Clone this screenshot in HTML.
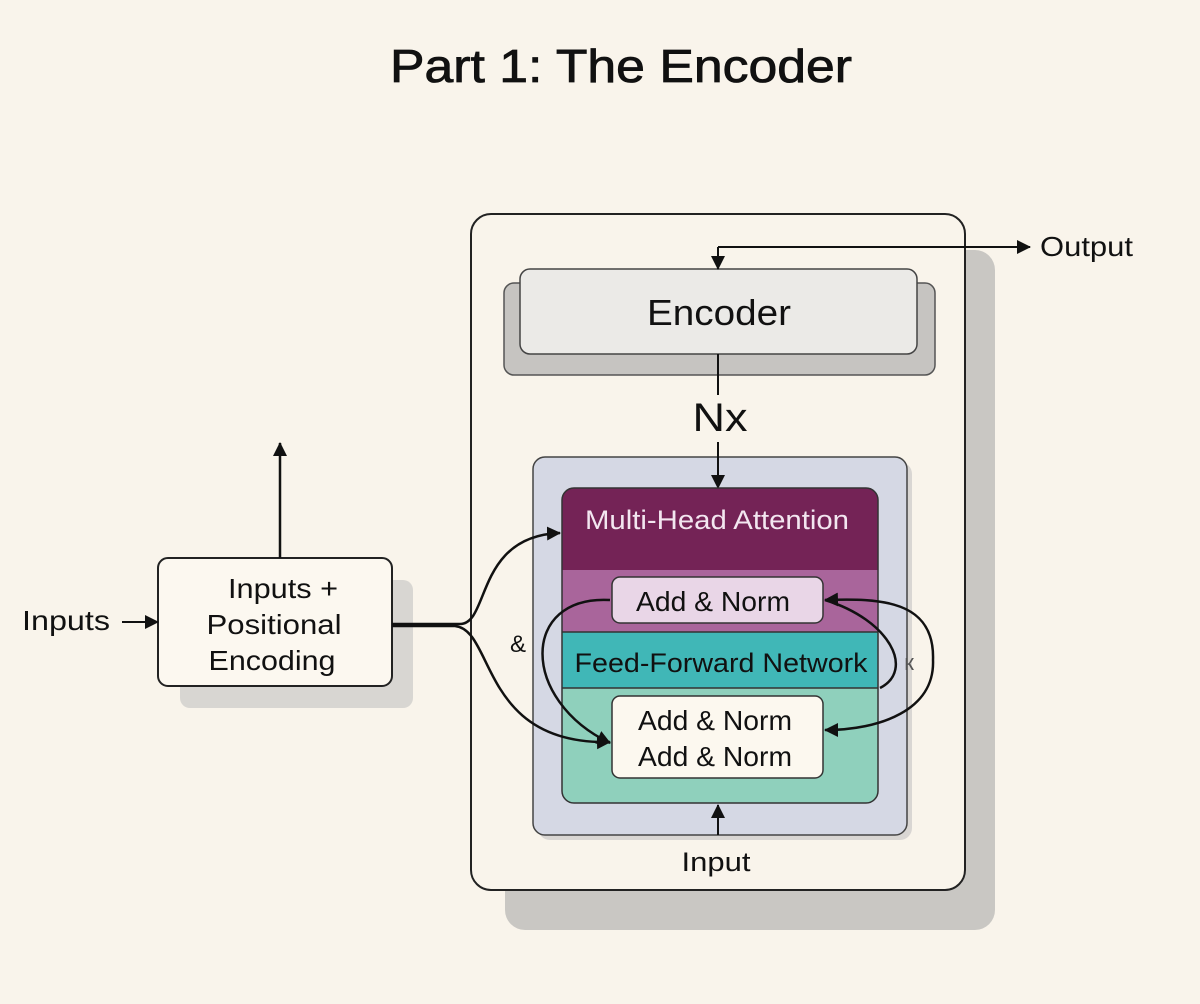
<!DOCTYPE html>
<html><head><meta charset="utf-8"><style>
html,body{margin:0;padding:0;background:#f9f4eb;}
svg{display:block;font-family:"Liberation Sans",Arial,sans-serif;}
</style></head><body>
<svg width="1200" height="1004" viewBox="0 0 1200 1004" xmlns="http://www.w3.org/2000/svg">
<defs>
<marker id="ahb" markerWidth="14" markerHeight="14" refX="13" refY="7" orient="auto" markerUnits="userSpaceOnUse">
<path d="M0,0 L14,7 L0,14 z" fill="#111"/></marker>
</defs>
<rect width="1200" height="1004" fill="#f9f4eb"/>
<text x="621" y="82" font-size="46" text-anchor="middle" fill="#111" stroke="#111" stroke-width="0.8" textLength="462" lengthAdjust="spacingAndGlyphs">Part 1: The Encoder</text>

<!-- outer shadow & box -->
<rect x="505" y="250" width="490" height="680" rx="20" fill="#c9c7c3"/>
<rect x="471" y="214" width="494" height="676" rx="20" fill="#f9f4eb" stroke="#222" stroke-width="2"/>

<!-- encoder -->
<rect x="504" y="283" width="431" height="92" rx="10" fill="#c6c4c1" stroke="#555" stroke-width="1.5"/>
<rect x="520" y="269" width="397" height="85" rx="10" fill="#ebeae7" stroke="#444" stroke-width="1.5"/>
<text x="719" y="325" font-size="36" text-anchor="middle" fill="#111" textLength="144" lengthAdjust="spacingAndGlyphs">Encoder</text>
<path d="M718,247 H1030" stroke="#111" stroke-width="2" fill="none" marker-end="url(#ahb)"/>
<path d="M718,247 V269" stroke="#111" stroke-width="2" fill="none" marker-end="url(#ahb)"/>
<text x="1040" y="256" font-size="28" fill="#111" textLength="93" lengthAdjust="spacingAndGlyphs">Output</text>
<line x1="718" y1="354" x2="718" y2="395" stroke="#111" stroke-width="2"/>
<text x="720" y="431" font-size="40" text-anchor="middle" fill="#111" textLength="55" lengthAdjust="spacingAndGlyphs">Nx</text>

<!-- lavender box -->
<rect x="538" y="462" width="374" height="378" rx="12" fill="#c3c2c3" opacity="0.6"/>
<rect x="533" y="457" width="374" height="378" rx="12" fill="#d5d8e4" stroke="#444" stroke-width="1.5"/>
<path d="M718,442 V488" stroke="#111" stroke-width="2" fill="none" marker-end="url(#ahb)"/>

<!-- stack -->
<path d="M562,500 a12,12 0 0 1 12,-12 H866 a12,12 0 0 1 12,12 V570 H562 z" fill="#742356"/>
<rect x="562" y="570" width="316" height="62" fill="#a9659b"/>
<rect x="562" y="632" width="316" height="56" fill="#40b7b7"/>
<path d="M562,688 H878 V791 a12,12 0 0 1 -12,12 H574 a12,12 0 0 1 -12,-12 z" fill="#8fd0bc"/>
<rect x="562" y="488" width="316" height="315" rx="12" fill="none" stroke="#333" stroke-width="1.5"/>
<line x1="562" y1="632" x2="878" y2="632" stroke="#333" stroke-width="1.5"/>
<line x1="562" y1="688" x2="878" y2="688" stroke="#333" stroke-width="1.5"/>
<text x="717" y="529" font-size="27" text-anchor="middle" fill="#f3e6f0" textLength="264" lengthAdjust="spacingAndGlyphs">Multi-Head Attention</text>
<rect x="612" y="577" width="211" height="46" rx="8" fill="#e9d6e7" stroke="#333" stroke-width="1.5"/>
<text x="713" y="611" font-size="28" text-anchor="middle" fill="#111" textLength="154" lengthAdjust="spacingAndGlyphs">Add &amp; Norm</text>
<text x="721" y="672" font-size="27" text-anchor="middle" fill="#111" textLength="293" lengthAdjust="spacingAndGlyphs">Feed-Forward Network</text>
<rect x="612" y="696" width="211" height="82" rx="8" fill="#fcf8ef" stroke="#333" stroke-width="1.5"/>
<text x="715" y="730" font-size="28" text-anchor="middle" fill="#111" textLength="154" lengthAdjust="spacingAndGlyphs">Add &amp; Norm</text>
<text x="715" y="766" font-size="28" text-anchor="middle" fill="#111" textLength="154" lengthAdjust="spacingAndGlyphs">Add &amp; Norm</text>

<path d="M718,835 V805" stroke="#111" stroke-width="2" fill="none" marker-end="url(#ahb)"/>
<text x="716" y="871" font-size="27" text-anchor="middle" fill="#111" textLength="69" lengthAdjust="spacingAndGlyphs">Input</text>

<!-- loops -->
<path d="M610,600 C520,595 520,700 610,743" stroke="#111" stroke-width="2.5" fill="none" marker-end="url(#ahb)"/>
<path d="M933,660 C935,600 880,598 825,600" stroke="#111" stroke-width="2.5" fill="none" marker-end="url(#ahb)"/>
<path d="M933,660 C935,710 880,730 825,730" stroke="#111" stroke-width="2.5" fill="none" marker-end="url(#ahb)"/>
<path d="M880,688 C915,670 890,620 825,600" stroke="#111" stroke-width="2.5" fill="none"/>
<text x="518" y="652" font-size="24" text-anchor="middle" fill="#111">&amp;</text>
<text x="909" y="670" font-size="22" text-anchor="middle" fill="#555">к</text>

<!-- left box -->
<rect x="180" y="580" width="233" height="128" rx="10" fill="#d8d6d2"/>
<rect x="158" y="558" width="234" height="128" rx="10" fill="#fcf8f0" stroke="#222" stroke-width="2"/>
<text x="283" y="598" font-size="28" text-anchor="middle" fill="#111" textLength="110" lengthAdjust="spacingAndGlyphs">Inputs +</text>
<text x="274" y="634" font-size="28" text-anchor="middle" fill="#111" textLength="135" lengthAdjust="spacingAndGlyphs">Positional</text>
<text x="272" y="670" font-size="28" text-anchor="middle" fill="#111" textLength="127" lengthAdjust="spacingAndGlyphs">Encoding</text>
<path d="M280,558 V443" stroke="#111" stroke-width="2.5" fill="none" marker-end="url(#ahb)"/>
<text x="22" y="630" font-size="28" fill="#111" textLength="88" lengthAdjust="spacingAndGlyphs">Inputs</text>
<path d="M122,622 H158" stroke="#111" stroke-width="2" fill="none" marker-end="url(#ahb)"/>
<path d="M392,624 H460 C490,624 475,536 560,533" stroke="#111" stroke-width="2.5" fill="none" marker-end="url(#ahb)"/>
<path d="M392,626 H455 C495,630 480,745 610,742" stroke="#111" stroke-width="2.5" fill="none" marker-end="url(#ahb)"/>
</svg>
</body></html>
